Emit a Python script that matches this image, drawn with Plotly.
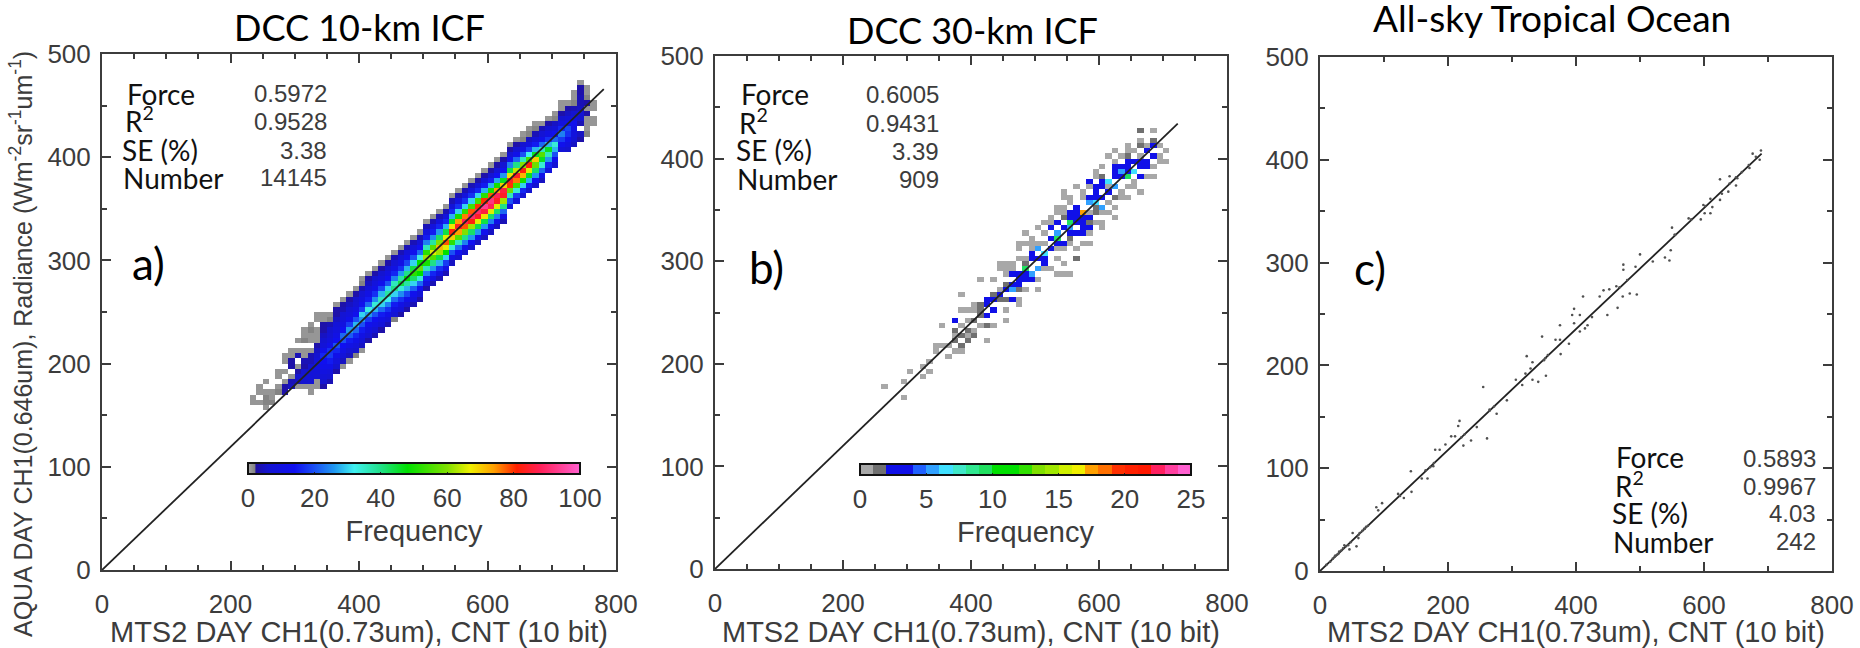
import numpy as np
import plotly.graph_objects as go

W, H = 1860, 648

# ---------- panel a : 10 x 5 bins, one column per x bin, values bottom to top ----------
a_col_x = [230,240,250,260,270,280,290,300,310,320,330,340,350,360,370,380,390,400,410,420,430,440,450,460,470,480,490,
           500,510,520,530,540,550,560,570,580,590,600,610,620,630,640,650,660,670,680,690,700,710,720,730,740,750,760]
a_col_y0 = [160,155,155,155,165,165,170,175,175,170,175,175,180,190,195,200,205,210,220,225,230,235,240,245,250,255,260,
            270,275,280,285,295,300,305,310,315,320,325,330,335,350,355,360,365,370,375,385,390,405,405,410,415,420,430]
a_col_v = [
 [1,1],
 [0,1,0,1,1],
 [1,2,2,1,0,1],
 [0,2,1,1,0],
 [0,2,1,0,1,1],
 [0,3,3,1,0,1,0,1,1],
 [0,5,4,1,0,3,3,1,1,0],
 [1,5,6,3,1,0,4,1,0,1],
 [1,6,7,6,3,4,1,1,0,2,1,1],
 [1,1,7,8,8,6,4,4,1,0,1,1,2,1],
 [1,1,7,8,10,8,6,5,3,1,1,1,0,1,1],
 [3,6,8,10,12,14,16,12,8,6,5,3,3,1,1],
 [4,7,9,12,15,18,17,12,9,7,6,4,2,1],
 [3,6,9,12,16,20,14,11,9,8,5,3,3,1],
 [1,5,8,11,14,20,22,14,10,8,7,4,3,1],
 [1,5,7,11,15,21,26,18,12,9,7,5,3,1],
 [2,6,9,12,16,22,28,20,13,10,7,6,3,1],
 [1,5,8,11,15,20,26,30,18,13,10,7,4,2,1],
 [3,7,10,13,18,26,33,22,15,11,8,5,3,1],
 [4,7,11,14,20,28,34,25,17,12,9,6,3,1],
 [3,8,11,15,22,30,36,28,19,13,9,6,3,1],
 [4,8,12,17,24,32,38,30,20,14,10,6,3,1],
 [2,7,10,15,22,30,40,36,24,16,11,7,4,1],
 [3,8,11,17,25,34,44,38,26,17,11,7,4,1],
 [3,7,12,19,28,38,48,40,28,19,12,8,4,1],
 [4,9,13,21,30,42,52,44,30,20,13,8,4,1],
 [3,8,14,22,34,48,58,48,33,22,14,8,4,1],
 [3,9,15,24,36,50,62,52,36,24,15,9,4,1],
 [4,10,16,26,40,56,66,56,38,25,15,9,4,1],
 [4,10,17,28,44,62,72,60,42,26,16,9,4,1],
 [4,11,18,30,48,66,78,66,44,28,16,9,4,1],
 [5,11,20,34,52,70,82,68,46,28,16,8,4,1],
 [6,13,22,36,56,74,84,74,50,30,17,9,4,1],
 [6,13,24,40,60,78,88,76,52,30,17,9,4,1],
 [6,14,26,42,62,82,90,78,54,30,17,9,4,1],
 [5,13,26,44,66,84,90,80,54,30,16,8,3,1],
 [5,13,26,44,68,86,94,80,52,28,15,8,3,1],
 [5,13,24,42,66,88,92,78,50,28,15,7,3,1],
 [5,12,24,42,66,84,88,74,50,27,14,7,3,1],
 [4,11,22,40,62,84,86,70,46,26,14,7,3,1],
 [9,20,36,58,80,84,68,44,24,13,7,3,1],
 [8,18,34,54,76,84,64,40,22,12,6,3,1],
 [7,16,30,50,72,82,60,36,20,11,6,2,1],
 [6,15,28,46,66,82,54,32,18,10,5,2,1],
 [6,14,26,42,58,70,46,28,15,8,4,2,1],
 [5,12,22,34,46,56,36,22,12,7,4,1],
 [9,16,26,36,46,28,17,10,6,3,1],
 [7,13,20,28,34,22,13,8,5,2,1],
 [8,13,18,24,16,9,6,3,1,1],
 [6,10,13,17,19,12,8,5,3,1],
 [5,7,9,11,13,9,6,4,2,1,1],
 [3,5,0,4,6,7,5,4,4,3,3,1],
 [2,1,1,1,3,1,3,2,1,1],
 [1,1,0,1,1],
]

# ---------- panel b : cells, grouped by colour step ----------
b_level1 = [(267,178),(307,192),(299,183),(323,197),(333,192),(333,202),(363,208),(349,217),(359,217),(370,223),(388,212),
            (356,237),(388,239),(396,243),(409,233),(419,235),(427,223),(435,237),(380,252),(380,267),(411,282),(435,282),
            (453,244),(453,250),(476,257),(500,272),(461,298),(450,298),(441,298),(492,316),(500,316),(450,285),(440,272),
            (682,426),(669,418),(640,413),(653,407),(633,402),(614,402),(596,389),(583,374),(664,368),(640,363),(547,368),
            (620,343),(620,350),(591,337),(531,352),(552,356),(523,342),(505,330),(489,317),(458,298),(470,303),(541,288),
            (549,298),(588,317),(536,304),(700,405),(685,390),(694,412),(650,372),(610,372),(575,360),(562,352),(545,345),
            (530,345),(515,336),(510,318),(495,310),(480,302),(520,310),(530,310),(555,315),(600,338),(600,345),(630,360),
            (645,372),(675,410),(690,400),(660,402),(625,405),(605,392),(590,380),(575,367),(480,288),(490,282),(510,290),
            (520,292),(530,288),(550,288),(570,325),(586,325),(470,264),(445,262),(425,262),(410,255),(400,250),(390,232),
            (378,225),(395,225),(375,212),(366,217),(345,210),(328,188),(290,168),(470,316),(475,310),(525,330),(540,352),
            (540,360),(555,362),(565,372),(585,345),(596,345),(610,345),(612,358),(632,368),(652,378),(672,382),(682,380),
            (692,395),(702,398),(640,408),(625,396),(520,335),(510,325),(498,322),(485,325),(545,310),(560,310),(572,318),
            (604,330),(498,282),(488,272),(500,280),(452,292),(462,292),(440,290),(430,268),(402,258),(395,250)]
b_level2 = [(380,217),(388,226),(377,223),(371,233),(414,252),(422,239),(419,259),(430,265),(405,240),(398,232),(411,245),
            (565,303),(669,425),(682,418),(622,362),(560,325),(594,345),(440,262),(450,262),(455,278),(475,270),(485,298),
            (505,300),(595,350),(530,322),(540,340),(605,380),(640,402),(660,410),(390,222),(400,228),(550,322),(585,338)]
b_level3 = [(371,243),(428,255),(428,248),(435,260),(432,254),(461,262),(450,272),(466,286),(476,280),(468,288),(476,287),
            (492,308),(513,304),(523,321),(531,335),(575,334),(579,329),(560,345),(599,366),(614,368),(622,392),(638,390),
            (666,390),(685,402),(685,412),(588,378),(440,265),(484,280),(540,332),(550,345),(565,335),(570,340),(578,338),
            (648,385),(658,385),(666,398),(676,405),(628,380),(596,372),(604,375),(530,328),(535,315),(446,268),
            (552,342),(552,335),(552,328),(562,328),(562,340),(572,330),(582,332),(582,342),(568,352),(524,330),(534,322),
            (540,318),(590,368),(590,362),(600,372),(624,388),(634,384),(644,392),(654,388),(664,384),(672,392),(466,276),
            (478,275),(486,286),(428,262),(438,254),(494,302),(515,298),(622,382),(612,376)]
b_level4 = [(492,284),(484,288),(500,300),(520,314),(538,318),(557,342),(565,350),(586,362),(606,362),(645,395),(656,395),(675,398)]
b_level6 = [(497,288),(502,294),(507,311),(539,325),(588,355),(601,353),(622,374),(461,272),(500,290),(630,388),(550,330)]
b_level7 = [(512,308),(594,358),(618,378),(650,385)]
b_level10 = [(557,335),(640,382),(487,291),(570,348),(532,322)]
b_level18 = [(578,347)]

# ---------- panel c : points ----------
c_x = [23,29,38,44,51,57,46,60,69,91,97,88,122,131,143,142,159,168,165,177,180,187,196,205,211,218,216,224,221,236,245,261,255,265,
       276,292,306,316,321,323,332,329,332,341,353,350,347,368,376,375,389,406,375,397,394,406,397,418,414,425,411,437,449,443,452,
       465,463,473,484,495,474,474,500,493,520,539,548,546,550,554,576,595,601,610,599,613,610,625,628,638,625,640,650,652,659,671,
       676,689,687,681,10,16,20,27,33,60,70,75,125,172,178,226,265,272,352,356,468,480,555,580,602,640,650,670,
       24,30,36,40,48,62,66,72]
c_y = [14,17,25,25,37,24,21,32,41,59,66,62,75,71,77,97,90,90,98,102,118,118,123,131,131,146,141,122,130,127,140,129,179,157,
       153,166,186,181,192,209,203,197,186,184,190,205,228,225,211,225,221,233,239,255,249,249,241,239,236,247,267,267,249,273,274,
       256,277,267,270,269,298,293,308,296,301,305,312,302,334,327,343,342,348,348,356,354,362,361,367,369,381,384,375,382,388,392,
       406,409,400,403,6,9,12,16,20,35,41,44,73,101,105,133,156,160,207,210,276,283,327,342,355,377,383,395,
       15,19,22,24,28,37,39,43]

# ---------- fit lines ----------
line_a_x, line_a_y = [0, 781], [0, 466]
line_b_x, line_b_y = [0, 723], [0, 434]
line_c_x, line_c_y = [0, 690], [0, 406]

# ---------- texts ----------
stat_labels = ["Force", "R<sup>2</sup>", "SE (%)", "Number"]
a_stats = ["0.5972", "0.9528", "3.38", "14145"]
b_stats = ["0.6005", "0.9431", "3.39", "909"]
c_stats = ["0.5893", "0.9967", "4.03", "242"]
x_title = "MTS2 DAY CH1(0.73um), CNT (10 bit)"
y_title = "AQUA DAY CH1(0.646um), Radiance (Wm<sup>-2</sup>sr<sup>-1</sup>um<sup>-1</sup>)"
x_ticks = [0, 200, 400, 600, 800]
y_ticks = [0, 100, 200, 300, 400, 500]

# ---------- colour scales ----------
a_scale = [[0,"#a8a8a8"],[0.022,"#808080"],[0.023,"#2010a0"],[0.06,"#1414d0"],[0.14,"#1010f0"],[0.2,"#1a50f5"],[0.26,"#2098f0"],
           [0.32,"#40f0f0"],[0.40,"#20e088"],[0.48,"#00e000"],[0.60,"#80e000"],[0.67,"#f0f000"],[0.74,"#ffa000"],
           [0.81,"#ff2000"],[0.88,"#ff2058"],[1,"#ff60d0"]]
b_steps = ["#a8a8a8","#707070","#1010e8","#1010e8","#2060ff","#30a0ff","#40e0ff","#40e8c8","#30e890","#20e060","#00e000",
           "#00e000","#30e000","#80e000","#a0e800","#d0f000","#f0f000","#ffa000","#ff7000","#ff3000","#ff2000","#ff1800",
           "#ff2060","#ff40a0","#ff60d0"]
b_scale = []
for i, c in enumerate(b_steps):
    b_scale += [[i / 25, c], [(i + 1) / 25, c]]

# ---------- grids ----------
za = np.full((100, 80), np.nan)
for x0, y0, vals in zip(a_col_x, a_col_y0, a_col_v):
    for k, v in enumerate(vals):
        if v > 0:
            za[(y0 + 5 * k) // 5, x0 // 10] = v

zb = np.full((100, 80), np.nan)
for lvl, cells in [(1, b_level1), (2, b_level2), (3, b_level3), (4, b_level4), (6, b_level6),
                   (7, b_level7), (10, b_level10), (18, b_level18)]:
    for x, y in cells:
        zb[y // 5, x // 10] = lvl - 0.5

# ---------- pixel frames ----------
frames = [(102, 616, 54, 570), (715, 1227, 56, 569), (1320, 1832, 57, 571)]
INK = "#3c3c3c"
SANS = "Liberation Sans"
LATO = "Lato"


def px(x):
    return x / W


def py(y):
    return 1 - y / H


fig = go.Figure()


def colorbar(left, right, top, dtick):
    return dict(orientation="h", lenmode="pixels", len=right - left, thickness=11, thicknessmode="pixels",
                x=px(left), xanchor="left", y=py(top), yanchor="top", xpad=0, ypad=0,
                outlinecolor="#111111", outlinewidth=2, borderwidth=0,
                tick0=0, dtick=dtick, ticks="inside", ticklen=3, tickcolor="#222222",
                tickfont=dict(family=SANS, size=26, color=INK),
                title=dict(text="Frequency", side="bottom", font=dict(family=SANS, size=29, color=INK)))


fig.add_trace(go.Heatmap(z=za, x0=5, dx=10, y0=2.5, dy=5, zmin=0, zmax=100, colorscale=a_scale, xaxis="x", yaxis="y",
                         colorbar=colorbar(248, 580, 463, 20)))
fig.add_trace(go.Heatmap(z=zb, x0=5, dx=10, y0=2.5, dy=5, zmin=0, zmax=25, colorscale=b_scale, xaxis="x2", yaxis="y2",
                         colorbar=colorbar(860, 1191, 464, 5)))
for lx, ly, xa, ya in [(line_a_x, line_a_y, "x", "y"), (line_b_x, line_b_y, "x2", "y2"), (line_c_x, line_c_y, "x3", "y3")]:
    fig.add_trace(go.Scatter(x=lx, y=ly, mode="lines", line=dict(color="#222222", width=1.8), xaxis=xa, yaxis=ya, showlegend=False))
fig.add_trace(go.Scatter(x=c_x, y=c_y, mode="markers", marker=dict(color="#505050", size=2.6), xaxis="x3", yaxis="y3", showlegend=False))


def axis_style(minor_dtick, **kw):
    return dict(range=kw.pop("range"), showgrid=False, zeroline=False, showline=True, linecolor=INK, linewidth=2, mirror="ticks",
                ticks="inside", ticklen=9, tickwidth=1.5, tickcolor=INK,
                minor=dict(dtick=minor_dtick, ticks="inside", ticklen=5, tickwidth=1.5, tickcolor=INK),
                tickfont=dict(family=SANS, size=26, color=INK), automargin=False, **kw)


layout = dict(width=W, height=H, margin=dict(l=0, r=0, t=0, b=0, autoexpand=False), paper_bgcolor="white", plot_bgcolor="white", showlegend=False)
minors = [50, 50, 100]
for i, (l, r, t, b) in enumerate(frames):
    sfx = "" if i == 0 else str(i + 1)
    layout["xaxis" + sfx] = axis_style(minors[i], range=[0, 800], domain=[px(l), px(r)], anchor="y" + sfx,
                                       tickvals=x_ticks, ticklabelstandoff=10,
                                       title=dict(text=x_title, standoff=4, font=dict(family=SANS, size=29, color=INK)))
    layout["yaxis" + sfx] = axis_style(50, range=[0, 500], domain=[py(b), py(t)], anchor="x" + sfx,
                                       tickvals=y_ticks, ticklabelstandoff=4)
fig.update_layout(**layout)


def note(x, y, text, anchor="left", family=LATO, size=25, color="#111111", angle=0):
    fig.add_annotation(x=px(x), y=py(y), xref="paper", yref="paper", text=text, showarrow=False, xanchor=anchor, yanchor="middle",
                       textangle=angle, font=dict(family=family, size=size, color=color))


note(359, 27, "DCC 10-km ICF", "center", size=36, color="#000000")
note(972, 30, "DCC 30-km ICF", "center", size=36, color="#000000")
note(1552, 17, "All-sky Tropical Ocean", "center", size=37, color="#000000")
note(148, 263, "a)", "center", size=44, color="#000000")
note(766, 267, "b)", "center", size=44, color="#000000")
note(1370, 268, "c)", "center", size=44, color="#000000")
note(21, 344, y_title, "center", family=SANS, size=25, color=INK, angle=-90)

for xs, ys, xv, yv, vals in [
    ([125, 123, 120, 121], [94, 120, 150, 178], 329, [94, 122, 150, 177], a_stats),
    ([739, 737, 734, 735], [94, 121, 150, 179], 941, [95, 123, 151, 179], b_stats),
    ([1614, 1613, 1610, 1611], [457, 484, 513, 542], 1818, [458, 486, 513, 541], c_stats),
]:
    for lab, x, y, val, vy in zip(stat_labels, xs, ys, vals, yv):
        note(x, y, lab, "left", size=28)
        note(xv, vy, val, "right", family=SANS, size=24, color=INK)

fig.write_html("out.html", config=dict(displayModeBar=False),
               post_script="document.body.style.margin='0';document.body.style.overflow='hidden';")
